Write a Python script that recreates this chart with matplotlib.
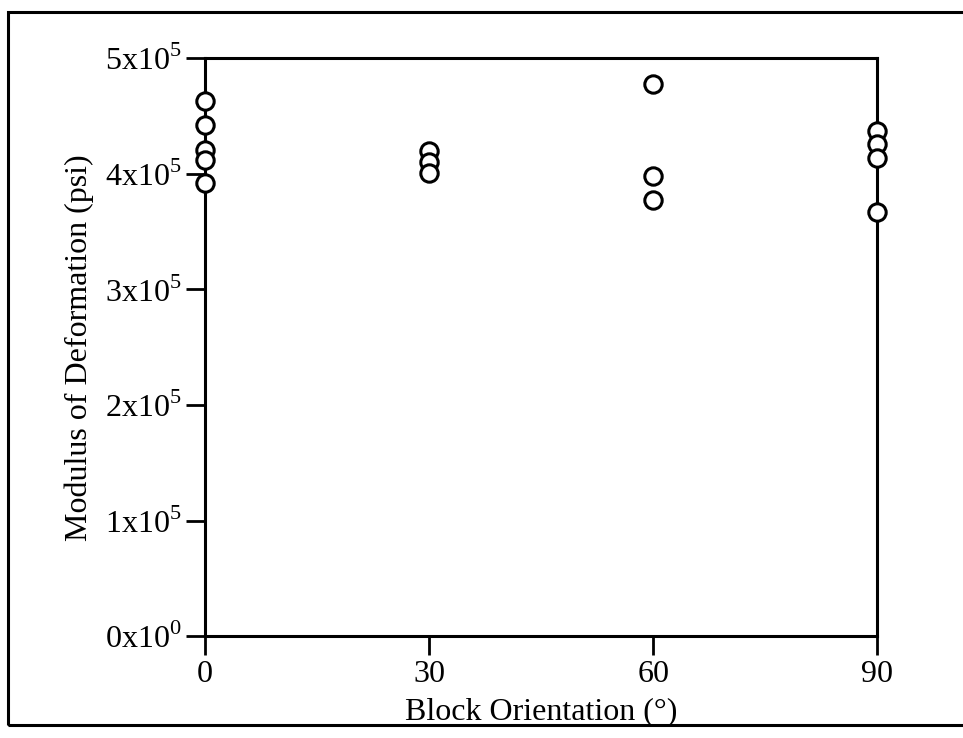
import matplotlib.pyplot as plt
from matplotlib.patches import Rectangle

# orientation (deg) and modulus of deformation (psi)
orient_0 = [0, 0, 0, 0, 0]
mod_0 = [4.63e5, 4.42e5, 4.21e5, 4.12e5, 3.92e5]
orient_30 = [30, 30, 30]
mod_30 = [4.20e5, 4.10e5, 4.01e5]
orient_60 = [60, 60, 60]
mod_60 = [4.78e5, 3.98e5, 3.77e5]
orient_90 = [90, 90, 90, 90]
mod_90 = [4.37e5, 4.26e5, 4.14e5, 3.67e5]

x_ticks = [0, 30, 60, 90]
y_ticks = [0, 1e5, 2e5, 3e5, 4e5, 5e5]
y_labels = ['0x10$^{0}$', '1x10$^{5}$', '2x10$^{5}$', '3x10$^{5}$', '4x10$^{5}$', '5x10$^{5}$']

plt.rcParams['font.family'] = ['Liberation Serif', 'DejaVu Serif']
plt.rcParams['mathtext.fontset'] = 'custom'
plt.rcParams['mathtext.rm'] = 'Liberation Serif'

fig = plt.figure(figsize=(9.63, 7.38), dpi=100)
ax = fig.add_axes([0.213, 0.138, 0.698, 0.783])

for xs, ys in [(orient_0, mod_0), (orient_30, mod_30), (orient_60, mod_60), (orient_90, mod_90)]:
    ax.plot(xs, ys, 'o', ms=12.5, mfc='white', mec='black', mew=2.2, clip_on=False, zorder=5)

ax.set_xlim(0, 90)
ax.set_ylim(0, 5e5)
ax.set_xticks(x_ticks)
ax.set_xticklabels([str(t) for t in x_ticks])
ax.set_yticks(y_ticks)
ax.set_yticklabels(y_labels)
ax.tick_params(axis='both', direction='out', length=14, width=2, labelsize=23, pad=3)
for s in ax.spines.values():
    s.set_linewidth(2.2)

ax.set_xlabel('Block Orientation (°)', fontsize=23, labelpad=6)
ax.set_ylabel('Modulus of Deformation (psi)', fontsize=23, labelpad=8)

# outer frame around the figure
fig.patches.append(Rectangle((0.008, 0.018), 0.995, 0.966, transform=fig.transFigure,
                             fill=False, edgecolor='black', linewidth=2.2))

fig.savefig('out.png', dpi=100)
